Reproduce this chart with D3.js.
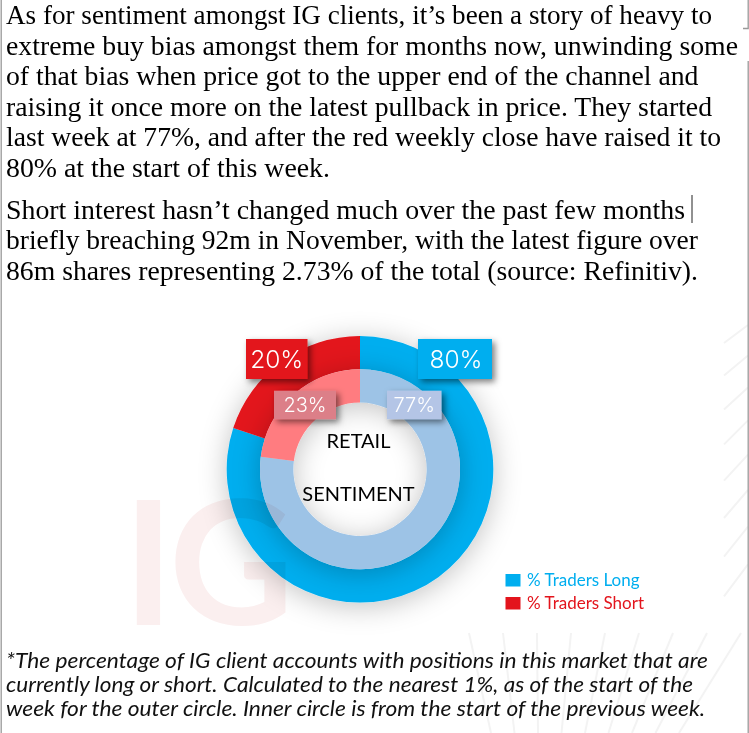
<!DOCTYPE html>
<html>
<head>
<meta charset="utf-8">
<script src="https://cdn.jsdelivr.net/npm/d3@7"></script>
<style>
html,body{margin:0;padding:0;background:#fff;}
svg{display:block;}
</style>
</head>
<body>
<svg id="graph" width="749" height="733"></svg>
<script>
// values
const seriesNames = ['% Traders Long', '% Traders Short']
const outerValues = [80, 20]   // start of this week
const innerValues = [77, 23]   // start of previous week

const centerLabels = ['RETAIL', 'SENTIMENT']

const bodyLines = [
  'As for sentiment amongst IG clients, it\u2019s been a story of heavy to',
  'extreme buy bias amongst them for months now, unwinding some',
  'of that bias when price got to the upper end of the channel and',
  'raising it once more on the latest pullback in price. They started',
  'last week at 77%, and after the red weekly close have raised it to',
  '80% at the start of this week.'
]
const bodyLines2 = [
  'Short interest hasn\u2019t changed much over the past few months',
  'briefly breaching 92m in November, with the latest figure over',
  '86m shares representing 2.73% of the total (source: Refinitiv).'
]
const footLines = [
  '*The percentage of IG client accounts with positions in this market that are',
  'currently long or short. Calculated to the nearest 1%, as of the start of the',
  'week for the outer circle. Inner circle is from the start of the previous week.'
]

const outerColor = d3.scaleOrdinal().domain(seriesNames).range(['#00aeef', '#e3141c'])
const innerColor = d3.scaleOrdinal().domain(seriesNames).range(['#9dc3e6', '#ff7c80'])

const svg = d3.select('#graph')
const cx = 360, cy = 469.3

// line lengths as measured on the page
const bodyLen = [706, 732, 692.5, 706, 715, 324]
const bodyLen2 = [679, 692, 692]
const footLen = [702, 687, 699]

// shadow filters
const defs = svg.append('defs')
const addShadow = (id, dx, dy, blur, op) => {
  defs.append('filter').attr('id', id)
    .attr('x', '-40%').attr('y', '-40%').attr('width', '180%').attr('height', '180%')
    .append('feDropShadow')
    .attr('dx', dx).attr('dy', dy).attr('stdDeviation', blur)
    .attr('flood-color', '#000').attr('flood-opacity', op)
}
addShadow('ringShadow', 0, 4, 14, 0.24)
addShadow('boxShadow', 3, 3, 3, 0.5)

// background lines
const deco = svg.append('g').attr('stroke', '#f3f3f3').attr('stroke-width', 2).attr('fill', 'none')
d3.range(8).forEach(i => {
  const y = 343 + i * 32 + i * i * 0.6
  deco.append('line').attr('x1', 724).attr('y1', y).attr('x2', 748).attr('y2', y - 18 - i * 2)
})
d3.range(9).forEach(i => {
  const x = 469 + i * 34
  const lean = -30 + i * 10.5
  deco.append('line').attr('x1', x).attr('y1', 633).attr('x2', x - lean - 8).attr('y2', 733)
})

const pie = d3.pie().sort(null).value(d => d.value)
const arcOuter = d3.arc().innerRadius(100).outerRadius(133.3)
const arcInner = d3.arc().innerRadius(66.7).outerRadius(100)

const toRows = vals => seriesNames.map((n, i) => ({ name: n, value: vals[i] }))

const chart = svg.append('g').attr('transform', `translate(${cx},${cy})`)

chart.append('g').attr('filter', 'url(#ringShadow)')
  .selectAll('path').data(pie(toRows(outerValues))).enter().append('path')
  .attr('d', arcOuter).attr('fill', d => outerColor(d.data.name))

chart.append('g').attr('filter', 'url(#ringShadow)')
  .selectAll('path').data(pie(toRows(innerValues))).enter().append('path')
  .attr('d', arcInner).attr('fill', d => innerColor(d.data.name))

// IG watermark, shows through the ring
svg.append('text').attr('x', 123).attr('y', 625)
  .attr('font-family', 'Lato').attr('font-weight', 700).attr('font-size', 172)
  .attr('letter-spacing', -5)
  .attr('fill', '#fbefef')
  .style('mix-blend-mode', 'multiply')
  .text('IG')

// value boxes
const boxes = [
  { value: outerValues[1], x: 246, y: 339, w: 61.5, h: 40, fill: '#e3141c', size: 24.5 },
  { value: outerValues[0], x: 418, y: 339, w: 74, h: 40, fill: '#00aeef', size: 24.5 },
  { value: innerValues[1], x: 274, y: 390.7, w: 62, h: 28.5, fill: '#dc7f88', size: 20 },
  { value: innerValues[0], x: 387, y: 390.7, w: 54.5, h: 28.5, fill: '#b4c5e6', size: 20 }
]
const box = svg.selectAll('.box').data(boxes).enter().append('g').attr('class', 'box')
box.append('rect')
  .attr('x', d => d.x).attr('y', d => d.y).attr('width', d => d.w).attr('height', d => d.h)
  .attr('fill', d => d.fill).attr('filter', 'url(#boxShadow)')
box.append('text')
  .attr('x', d => d.x + d.w / 2 + (d.value === 80 ? 1 : 0)).attr('y', d => d.y + d.h / 2 + d.size * 0.36)
  .attr('text-anchor', 'middle').attr('fill', '#fff')
  .attr('font-family', 'Inter').attr('font-weight', 300).attr('font-size', d => d.size)
  .text(d => d.value + '%')

// center labels
svg.selectAll('.centerLabel').data(centerLabels).enter().append('text')
  .attr('class', 'centerLabel')
  .attr('x', 358.5).attr('y', (d, i) => 448 + i * 52.5)
  .attr('text-anchor', 'middle').attr('fill', '#000')
  .attr('font-family', 'Lato').attr('font-size', 20)
  .text(d => d)

// legend
const legend = svg.selectAll('.legend').data(seriesNames).enter().append('g').attr('class', 'legend')
legend.append('rect')
  .attr('x', 505.5).attr('y', (d, i) => 574 + i * 23).attr('width', 15).attr('height', 12.5)
  .attr('fill', d => outerColor(d))
legend.append('text')
  .attr('x', 527).attr('y', (d, i) => 585.5 + i * 23)
  .attr('fill', d => outerColor(d))
  .attr('font-family', 'Lato').attr('font-size', 17)
  .text(d => d)

// body text
const bodyFont = g => g.attr('font-family', 'Liberation Serif').attr('font-size', 27).attr('fill', '#000')
svg.append('g').call(bodyFont).selectAll('text').data(bodyLines).enter().append('text')
  .attr('x', 6).attr('y', (d, i) => 24 + i * 30.5)
  .attr('textLength', (d, i) => bodyLen[i]).attr('lengthAdjust', 'spacingAndGlyphs').text(d => d)
svg.append('g').call(bodyFont).selectAll('text').data(bodyLines2).enter().append('text')
  .attr('x', 6).attr('y', (d, i) => 218.5 + i * 30.8)
  .attr('textLength', (d, i) => bodyLen2[i]).attr('lengthAdjust', 'spacingAndGlyphs').text(d => d)

// footnote
svg.append('g').attr('font-family', 'Lato').attr('font-style', 'italic').attr('font-weight', 400)
  .attr('font-size', 21).attr('fill', '#111')
  .selectAll('text').data(footLines).enter().append('text')
  .attr('x', 6).attr('y', (d, i) => 667.5 + i * 24.3)
  .attr('textLength', (d, i) => footLen[i]).attr('lengthAdjust', 'spacingAndGlyphs').text(d => d)

// frame bits
const frame = svg.append('g').attr('stroke', '#999').attr('stroke-width', 1.3).attr('fill', 'none')
frame.append('line').attr('x1', 1.2).attr('y1', 0).attr('x2', 1.2).attr('y2', 733)
frame.append('line').attr('x1', 748.2).attr('y1', 61).attr('x2', 748.2).attr('y2', 733)
frame.append('path').attr('d', 'M748.2,0V28.5H743')
svg.append('line').attr('x1', 692).attr('y1', 195).attr('x2', 692).attr('y2', 223)
  .attr('stroke', '#222').attr('stroke-width', 1)
</script>
</body>
</html>
